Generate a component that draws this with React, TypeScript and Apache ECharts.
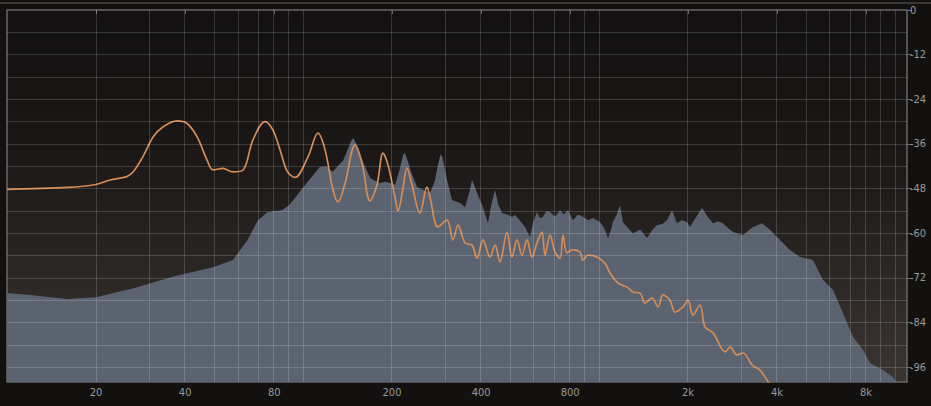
import React, { useEffect, useRef } from "react";
import * as echarts from "echarts";

// Frequency grid (Hz) and dB grid
const FREQ_GRID = [20, 30, 40, 50, 60, 70, 80, 90, 100, 200, 300, 400, 500, 600, 700, 800, 900, 1000, 2000, 3000, 4000, 5000, 6000, 7000, 8000, 9000, 10000];
const DB_GRID = [-6, -12, -18, -24, -30, -36, -42, -48, -54, -60, -66, -72, -78, -84, -90, -96];
const FREQ_LABELS = [20, 40, 80, 200, 400, 800, 2000, 4000, 8000];
const DB_LABELS = [0, -12, -24, -36, -48, -60, -72, -84, -96];
const F_MIN = 10;
const F_MAX = 11000;
const DB_MIN = -100;
const DB_MAX = 0;

// Spectrum (grey area)
const specFreq = [10, 12, 14, 16, 20, 27, 36, 50, 58, 65, 70.5, 76, 85, 90, 100, 114, 120, 126, 137, 145, 148, 154, 160, 169, 182, 190, 197, 205, 212, 218, 221, 226, 232, 243, 255, 269, 279, 286, 292, 296, 307, 319, 340, 353, 365, 373, 388, 406, 422, 434, 446, 458, 471, 490, 509, 521, 540, 563, 585, 600, 618, 633, 648, 665, 684, 710, 739, 760, 787, 818, 850, 884, 920, 956, 1009, 1040, 1074, 1100, 1116, 1150, 1179, 1206, 1250, 1304, 1380, 1455, 1520, 1573, 1640, 1700, 1767, 1837, 1900, 1986, 2032, 2120, 2232, 2330, 2432, 2527, 2627, 2720, 2841, 3071, 3300, 3559, 3780, 4000, 4426, 4783, 5292, 5722, 6185, 6686, 7227, 7812, 8249, 9126, 9863, 10097, 11000];
const specDb = [-76.1, -76.6, -77.2, -77.7, -77.2, -74.7, -71.8, -69.1, -67.2, -61.8, -56.5, -54.3, -53.8, -52.4, -47.8, -42.2, -42.0, -43.5, -40.3, -35.5, -34.4, -37.0, -41.0, -45.2, -46.5, -46.2, -46.5, -47.0, -43.0, -39.0, -38.4, -40.5, -43.5, -47.6, -48.4, -49.2, -46.0, -41.5, -38.8, -39.5, -45.7, -51.1, -51.9, -53.0, -49.0, -45.7, -49.2, -53.0, -57.3, -52.0, -48.4, -52.5, -54.6, -55.0, -55.6, -55.1, -56.5, -58.3, -61.0, -57.0, -54.3, -56.0, -55.6, -54.0, -54.3, -55.5, -53.8, -55.0, -53.8, -56.5, -55.0, -55.6, -56.5, -55.9, -57.0, -58.5, -61.3, -59.0, -57.0, -55.0, -52.4, -57.0, -58.5, -60.0, -59.0, -61.3, -59.0, -57.8, -57.5, -56.5, -53.8, -57.3, -56.5, -57.0, -58.3, -56.0, -53.2, -55.5, -57.3, -56.8, -57.3, -58.5, -59.7, -60.5, -58.5, -57.3, -59.0, -61.0, -64.5, -66.4, -67.2, -72.6, -75.3, -81.5, -87.9, -91.4, -94.9, -96.8, -98.7, -100, -100];

// Response (orange line)
const respFreq = [10, 16, 20, 22.3, 25.4, 26.7, 28.8, 31.2, 33.7, 37.5, 40.6, 43.9, 47.4, 49.7, 53.7, 58, 62.8, 67.8, 74.5, 79.2, 83.7, 88.4, 94, 104, 112.4, 118.8, 126.4, 131.4, 138.8, 150, 158.4, 168.6, 178, 186.5, 193.9, 204.8, 209.6, 217.9, 224.7, 233.6, 248.6, 262.6, 268.8, 286.1, 306.8, 321.4, 334.2, 353, 372.8, 387.6, 406.1, 428.8, 445.8, 463.4, 489.4, 508.7, 529, 550, 571.8, 594.5, 618, 642.5, 657.7, 683.9, 711, 739.3, 756.7, 780.6, 811.6, 863.8, 884.3, 919, 985.8, 1049, 1091, 1161, 1245, 1304, 1377, 1432, 1512, 1585, 1648, 1739, 1809, 1925, 2001, 2080, 2197, 2284, 2432, 2678, 2775, 2931, 3071, 3293, 3504, 3701, 3800];
const respDb = [-48.2, -47.7, -46.9, -45.7, -44.8, -43.5, -39.4, -34.1, -31.4, -29.8, -30.5, -34.1, -40.3, -43.0, -42.6, -43.5, -43.0, -34.9, -30.0, -32.3, -37.6, -43.3, -45.0, -39.5, -33.1, -37.6, -48.4, -51.6, -46.6, -36.3, -41.2, -51.3, -47.0, -38.5, -41.7, -50.3, -54.0, -47.8, -42.5, -47.0, -54.6, -47.6, -50.3, -58.3, -56.5, -61.8, -57.8, -62.6, -63.2, -66.7, -61.8, -66.4, -63.2, -67.7, -59.7, -66.4, -61.8, -65.9, -61.8, -66.4, -62.6, -59.7, -65.9, -60.5, -65.1, -66.7, -60.5, -65.3, -64.5, -65.1, -67.2, -65.9, -66.4, -68.1, -70.7, -73.4, -74.5, -75.8, -76.1, -78.8, -77.4, -79.8, -76.6, -78.0, -81.2, -79.8, -78.0, -82.0, -79.3, -85.2, -86.8, -91.9, -90.6, -92.7, -92.2, -95.4, -96.8, -99.5, -101];

const lg = (f: number) => Math.log10(f);
const fmtFreq = (v: number) => {
  const f = Math.round(Math.pow(10, v));
  return f >= 1000 ? `${Math.round(f / 1000)}k` : String(f);
};

const FONT = '"Liberation Sans Narrow", "DejaVu Sans Condensed", "DejaVu Sans", sans-serif';

export default function App() {
  const ref = useRef<HTMLDivElement>(null);
  useEffect(() => {
    if (!ref.current) return;
    const chart = echarts.init(ref.current, undefined, { renderer: "svg" });
    const spectrum = specFreq.map((f, i) => [lg(f), specDb[i]]);
    const response = respFreq.map((f, i) => [lg(f), respDb[i]]);
    chart.setOption({
      animation: false,
      backgroundColor: "#131110",
      graphic: [
        { type: "rect", left: 0, top: 2, shape: { width: 931, height: 2 }, style: { fill: "#3a3837" }, silent: true },
      ],
      grid: {
        left: 7,
        right: 24,
        top: 10,
        bottom: 24,
        show: true,
        borderColor: "#686666",
        borderWidth: 1.5,
        backgroundColor: new echarts.graphic.LinearGradient(0, 0, 0, 1, [
          { offset: 0, color: "#121010" },
          { offset: 0.4, color: "#1b1817" },
          { offset: 1, color: "#3b3532" },
        ]),
      },
      xAxis: {
        type: "value",
        min: lg(F_MIN),
        max: lg(F_MAX),
        splitLine: { show: false },
        axisLine: { show: false },
        axisTick: {
          show: true,
          customValues: FREQ_LABELS.map(lg),
          length: 4,
          lineStyle: { color: "#6a6868" },
        },
        axisLabel: {
          customValues: FREQ_LABELS.map(lg),
          formatter: (v: number) => fmtFreq(v),
          color: "#9a9898",
          fontSize: 11,
          fontFamily: FONT,
          margin: 5,
        },
      },
      yAxis: {
        type: "value",
        position: "right",
        min: DB_MIN,
        max: DB_MAX,
        splitLine: { show: false },
        axisLine: { show: false },
        axisTick: {
          show: true,
          customValues: DB_LABELS,
          length: 5,
          lineStyle: { color: "#6a6868" },
        },
        axisLabel: {
          customValues: DB_LABELS,
          formatter: (v: number) => String(v),
          color: "#9a9898",
          fontSize: 11,
          fontFamily: FONT,
          margin: 3,
        },
      },
      series: [
        {
          type: "line",
          data: spectrum,
          z: 2,
          symbol: "none",
          silent: true,
          lineStyle: { width: 0 },
          areaStyle: { color: "#5b6371", opacity: 1, origin: "start" },
        },
        {
          type: "line",
          data: [],
          z: 3,
          silent: true,
          markLine: {
            silent: true,
            symbol: ["none", "none"],
            label: { show: false },
            lineStyle: { color: "rgba(255,255,255,0.16)", width: 1, type: "solid" },
            emphasis: { disabled: true },
            data: [
              ...FREQ_GRID.map((f) => ({ xAxis: lg(f) })),
              ...DB_GRID.map((d) => ({ yAxis: d })),
            ],
          },
        },
        {
          type: "line",
          data: response,
          z: 4,
          symbol: "none",
          silent: true,
          smooth: 0.35,
          lineStyle: { color: "#d48b56", width: 1.7 },
        },
      ],
    });
    return () => chart.dispose();
  }, []);
  return (
    <div
      ref={ref}
      style={{ position: "fixed", left: 0, top: 0, width: 931, height: 406, background: "#131110" }}
    />
  );
}
